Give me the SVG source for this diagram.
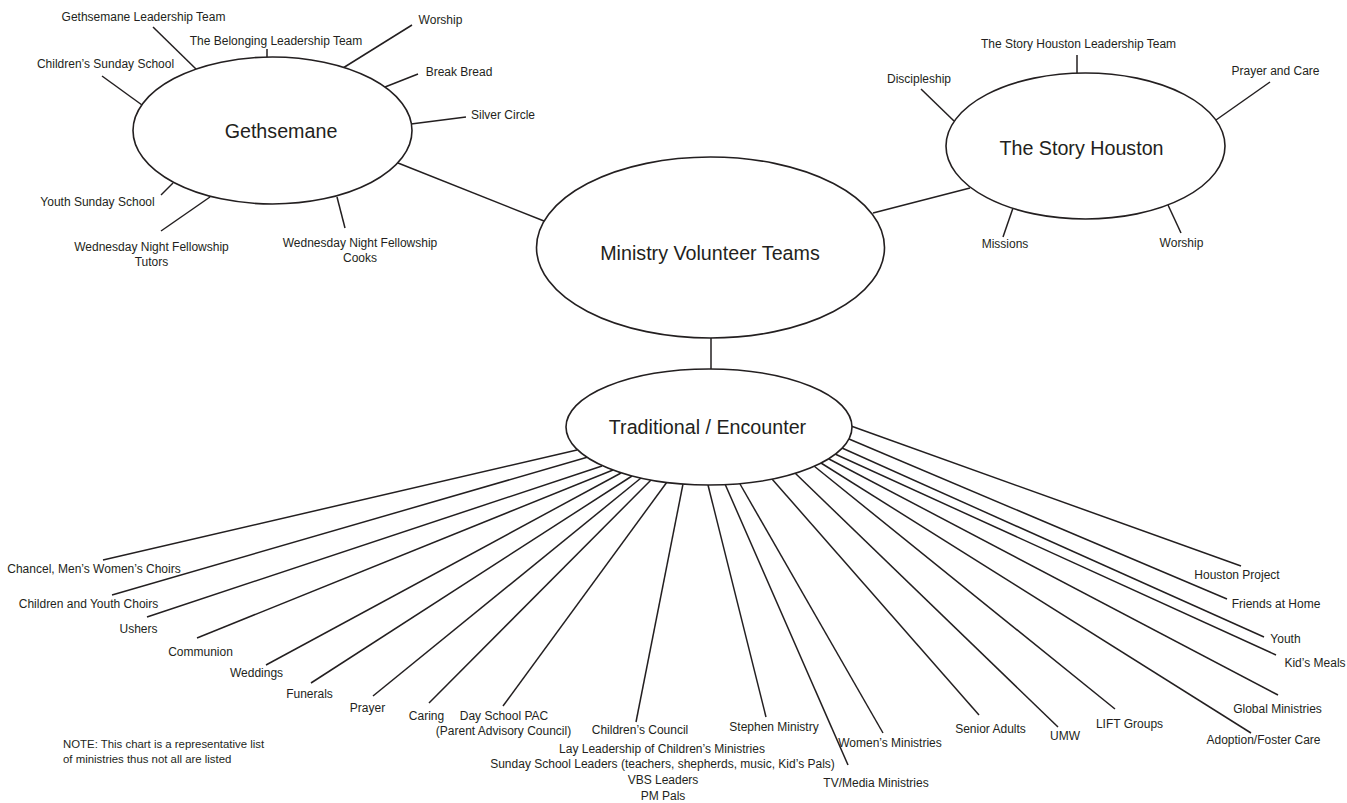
<svg xmlns="http://www.w3.org/2000/svg" width="1347" height="803" viewBox="0 0 1347 803">
<style>
.bg{fill:#ffffff}
.hub{fill:#ffffff;stroke:#231f20;stroke-width:1.6}
.ln{stroke:#231f20;stroke-width:1.5;fill:none;stroke-linecap:butt}
.big{font-family:"Liberation Sans",Arial,sans-serif;font-size:19.7px;fill:#231f20;text-anchor:middle}
.lb{font-family:"Liberation Sans",Arial,sans-serif;font-size:12px;fill:#231f20;text-anchor:middle}
.note{font-family:"Liberation Sans",Arial,sans-serif;font-size:11.4px;fill:#231f20}
</style>
<rect class="bg" x="0" y="0" width="1347" height="803"/>
<g id="connectors">
  <!-- hub links -->
  <line class="ln" x1="398" y1="163" x2="544" y2="221"/>
  <line class="ln" x1="873" y1="213" x2="970" y2="188"/>
  <line class="ln" x1="711" y1="338" x2="711" y2="369"/>
  <!-- Gethsemane spokes -->
  <line class="ln" x1="153" y1="27" x2="197" y2="70"/>
  <line class="ln" x1="267" y1="49" x2="267" y2="58"/>
  <line class="ln" x1="102" y1="76" x2="142" y2="105"/>
  <line class="ln" x1="343" y1="68" x2="412" y2="25"/>
  <line class="ln" x1="385" y1="87" x2="418" y2="74"/>
  <line class="ln" x1="411" y1="124" x2="466" y2="117"/>
  <line class="ln" x1="161" y1="195" x2="173" y2="183"/>
  <line class="ln" x1="161" y1="231" x2="210" y2="197"/>
  <line class="ln" x1="337" y1="197" x2="345" y2="228"/>
  <!-- Story Houston spokes -->
  <line class="ln" x1="1077" y1="55" x2="1077" y2="74"/>
  <line class="ln" x1="921" y1="89" x2="954" y2="121"/>
  <line class="ln" x1="1216" y1="120" x2="1270" y2="82"/>
  <line class="ln" x1="1013" y1="208" x2="1003" y2="237"/>
  <line class="ln" x1="1168" y1="205" x2="1181" y2="233"/>
  <!-- Traditional / Encounter spokes -->
  <line class="ln" x1="577" y1="450" x2="103" y2="560"/>
  <line class="ln" x1="588" y1="457" x2="112" y2="595"/>
  <line class="ln" x1="602" y1="466" x2="147" y2="617"/>
  <line class="ln" x1="613" y1="470" x2="197" y2="638"/>
  <line class="ln" x1="621" y1="473" x2="266" y2="665"/>
  <line class="ln" x1="632" y1="476" x2="311" y2="683"/>
  <line class="ln" x1="641" y1="478" x2="373" y2="696"/>
  <line class="ln" x1="651" y1="480" x2="429" y2="703"/>
  <line class="ln" x1="667" y1="482" x2="503" y2="706"/>
  <line class="ln" x1="683" y1="484" x2="636" y2="722"/>
  <line class="ln" x1="708" y1="485" x2="766" y2="717"/>
  <line class="ln" x1="725" y1="484" x2="848" y2="765"/>
  <line class="ln" x1="740" y1="484" x2="883" y2="733"/>
  <line class="ln" x1="772" y1="479" x2="979" y2="715"/>
  <line class="ln" x1="795" y1="473" x2="1058" y2="727"/>
  <line class="ln" x1="814" y1="466" x2="1115" y2="709"/>
  <line class="ln" x1="821" y1="463" x2="1251" y2="733"/>
  <line class="ln" x1="829" y1="459" x2="1278" y2="695"/>
  <line class="ln" x1="835" y1="454" x2="1276" y2="655"/>
  <line class="ln" x1="842" y1="448" x2="1264" y2="637"/>
  <line class="ln" x1="849" y1="439" x2="1227" y2="599"/>
  <line class="ln" x1="851" y1="426" x2="1241" y2="566"/>
</g>
<g id="node-gethsemane"><ellipse class="hub" cx="272.5" cy="130.5" rx="139.5" ry="73.5"/><text class="big" x="281" y="138">Gethsemane</text></g>
<g id="node-ministry-volunteer-teams"><ellipse class="hub" cx="710.5" cy="247.5" rx="174" ry="90.5"/><text class="big" x="710" y="260">Ministry Volunteer Teams</text></g>
<g id="node-story-houston"><ellipse class="hub" cx="1085.5" cy="146" rx="139.5" ry="73"/><text class="big" x="1081.5" y="155">The Story Houston</text></g>
<g id="node-traditional"><ellipse class="hub" cx="709" cy="427" rx="143" ry="58"/><text class="big" x="707.5" y="434">Traditional / Encounter</text></g>

<g id="g-leadership"><text class="lb" x="143.5" y="21">Gethsemane Leadership Team</text></g>
<g id="g-belonging"><text class="lb" x="276" y="45">The Belonging Leadership Team</text></g>
<g id="g-childrens-ss"><text class="lb" x="105.5" y="68">Children’s Sunday School</text></g>
<g id="g-worship"><text class="lb" x="440.5" y="24">Worship</text></g>
<g id="g-break-bread"><text class="lb" x="459" y="76">Break Bread</text></g>
<g id="g-silver-circle"><text class="lb" x="503" y="119">Silver Circle</text></g>
<g id="g-youth-ss"><text class="lb" x="97.5" y="206">Youth Sunday School</text></g>
<g id="g-wnf-tutors"><text class="lb" x="151.5" y="251">Wednesday Night Fellowship</text><text class="lb" x="151.5" y="266">Tutors</text></g>
<g id="g-wnf-cooks"><text class="lb" x="360" y="247">Wednesday Night Fellowship</text><text class="lb" x="360" y="262">Cooks</text></g>

<g id="s-leadership"><text class="lb" x="1078.5" y="48">The Story Houston Leadership Team</text></g>
<g id="s-discipleship"><text class="lb" x="919" y="83">Discipleship</text></g>
<g id="s-prayer-care"><text class="lb" x="1275.5" y="75">Prayer and Care</text></g>
<g id="s-missions"><text class="lb" x="1005" y="248">Missions</text></g>
<g id="s-worship"><text class="lb" x="1181.5" y="247">Worship</text></g>

<g id="t-chancel"><text class="lb" x="94" y="573">Chancel, Men’s Women’s Choirs</text></g>
<g id="t-cy-choirs"><text class="lb" x="88.5" y="608">Children and Youth Choirs</text></g>
<g id="t-ushers"><text class="lb" x="138.5" y="633">Ushers</text></g>
<g id="t-communion"><text class="lb" x="200.5" y="656">Communion</text></g>
<g id="t-weddings"><text class="lb" x="256.5" y="677">Weddings</text></g>
<g id="t-funerals"><text class="lb" x="309.5" y="698">Funerals</text></g>
<g id="t-prayer"><text class="lb" x="367.5" y="712">Prayer</text></g>
<g id="t-caring"><text class="lb" x="426.5" y="720">Caring</text></g>
<g id="t-dayschool"><text class="lb" x="504" y="720">Day School PAC</text><text class="lb" x="503.5" y="735">(Parent Advisory Council)</text></g>
<g id="t-childrens-council"><text class="lb" x="640" y="734">Children’s Council</text></g>
<g id="t-childrens-block"><text class="lb" x="662" y="753">Lay Leadership of Children’s Ministries</text><text class="lb" x="662.5" y="768">Sunday School Leaders (teachers, shepherds, music, Kid’s Pals)</text><text class="lb" x="663" y="784">VBS Leaders</text><text class="lb" x="663" y="800">PM Pals</text></g>
<g id="t-stephen"><text class="lb" x="774" y="731">Stephen Ministry</text></g>
<g id="t-womens"><text class="lb" x="890" y="747">Women’s Ministries</text></g>
<g id="t-tvmedia"><text class="lb" x="876" y="787">TV/Media Ministries</text></g>
<g id="t-senior"><text class="lb" x="990.5" y="733">Senior Adults</text></g>
<g id="t-umw"><text class="lb" x="1065" y="740">UMW</text></g>
<g id="t-lift"><text class="lb" x="1129.5" y="728">LIFT Groups</text></g>
<g id="t-adoption"><text class="lb" x="1263.5" y="744">Adoption/Foster Care</text></g>
<g id="t-global"><text class="lb" x="1277.5" y="713">Global Ministries</text></g>
<g id="t-kids-meals"><text class="lb" x="1315" y="667">Kid’s Meals</text></g>
<g id="t-youth"><text class="lb" x="1285.5" y="643">Youth</text></g>
<g id="t-friends"><text class="lb" x="1276" y="608">Friends at Home</text></g>
<g id="t-houston-project"><text class="lb" x="1237" y="579">Houston Project</text></g>

<g id="note"><text class="note" x="63" y="748">NOTE: This chart is a representative list</text><text class="note" x="63" y="763">of ministries thus not all are listed</text></g>
</svg>
